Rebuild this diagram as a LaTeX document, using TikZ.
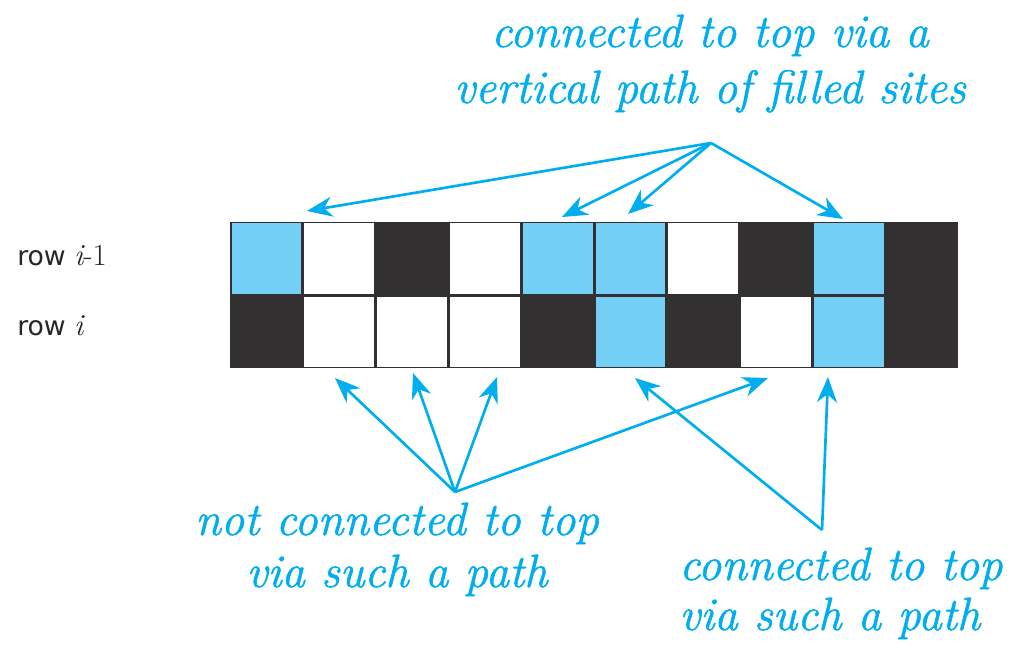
\documentclass[tikz,border=0pt]{standalone}
\usepackage{fontspec}
\newfontfamily\rowfont{DejaVu Sans}
\newfontfamily\lblfont[FakeBold=1.2]{Latin Modern Roman}
\usetikzlibrary{arrows.meta}
\definecolor{cyanline}{RGB}{0,174,239}
\definecolor{site}{RGB}{115,207,245}
\definecolor{dark}{RGB}{51,48,49}
\tikzset{
  lbl/.style={text=cyanline, font=\lblfont\fontsize{35}{42}\selectfont\itshape, inner sep=0pt},
  rowlbl/.style={font=\fontsize{20}{24}\selectfont, text=black!85, inner sep=0pt, anchor=base west},
  pointer/.style={draw=cyanline, line width=2pt, -{Stealth[length=19pt,width=15pt,inset=6pt]}},
}
\begin{document}
\begin{tikzpicture}[x=0.75pt,y=-0.75pt]
\useasboundingbox (0,0) rectangle (1009,645);
% grid background
\fill[dark] (230,222) rectangle (958,368);
% row 1 : B W K W B B W K B K ; row 2 : K W W W K B K W B K
\foreach \c/\col in {0/site,1/white,3/white,4/site,5/site,6/white,8/site}{
  \fill[\col] ({230+72.8*\c+1.5},223.5) rectangle ({230+72.8*(\c+1)-1.5},293.5);
}
\foreach \c/\col in {1/white,2/white,3/white,5/site,7/white,8/site}{
  \fill[\col] ({230+72.8*\c+1.5},296.5) rectangle ({230+72.8*(\c+1)-1.5},366.5);
}
% row labels
\node[rowlbl] (rowa) at (17,265) {\rowfont row {\normalfont\fontsize{23}{24}\selectfont\itshape i\upshape -1}};
\node[rowlbl] (rowb) at (17,335) {\rowfont row {\normalfont\fontsize{23}{24}\selectfont\itshape i}};
% texts
\node[lbl, anchor=base] (top1) at (710,47) {connected to top via a};
\node[lbl, anchor=base] (top2) at (710,103) {vertical path of filled sites};
\node[lbl, anchor=base] (nc1) at (397,535) {not connected to top};
\node[lbl, anchor=base] (nc2) at (397,587) {via such a path};
\node[lbl, anchor=base west] (cc1) at (679,580) {connected to top};
\node[lbl, anchor=base west] (cc2) at (679,630) {via such a path};
% pointer origins and targets
\coordinate (A) at (711,143);
\coordinate (B) at (455,492);
\coordinate (C) at (822,530);
\coordinate (t1) at (307,211);
\coordinate (t2) at (562,217);
\coordinate (t3) at (628,214);
\coordinate (t4) at (843,219);
\coordinate (b1) at (335,378);
\coordinate (b2) at (413,373);
\coordinate (b3) at (497,377);
\coordinate (b4) at (768,378);
\coordinate (c1) at (635,378);
\coordinate (c2) at (828,377);
\foreach \t in {t1,t2,t3,t4}{ \draw[pointer] (A) -- (\t); }
\foreach \t in {b1,b2,b3,b4}{ \draw[pointer] (B) -- (\t); }
\foreach \t in {c1,c2}{ \draw[pointer] (C) -- (\t); }
\end{tikzpicture}
\end{document}
